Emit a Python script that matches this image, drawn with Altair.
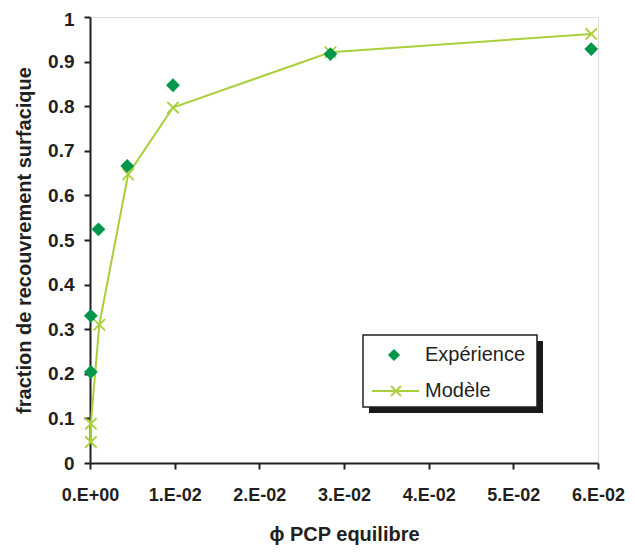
import altair as alt
import pandas as pd

# Data
exp_x = [0.0001, 0.0001, 0.0010, 0.0044, 0.0098, 0.0284, 0.0592]
exp_y = [0.204, 0.330, 0.524, 0.666, 0.847, 0.917, 0.928]
mod_x = [0.0001, 0.0001, 0.0011, 0.0045, 0.0098, 0.0284, 0.0592]
mod_y = [0.047, 0.088, 0.310, 0.647, 0.797, 0.921, 0.962]

x_ticks = [0.0, 0.01, 0.02, 0.03, 0.04, 0.05, 0.06]
x_labels = ["0.E+00", "1.E-02", "2.E-02", "3.E-02", "4.E-02", "5.E-02", "6.E-02"]
y_ticks = [0.0, 0.1, 0.2, 0.3, 0.4, 0.5, 0.6, 0.7, 0.8, 0.9, 1.0]
y_labels = ["0", "0.1", "0.2", "0.3", "0.4", "0.5", "0.6", "0.7", "0.8", "0.9", "1"]
legend_labels = ["Expérience", "Modèle"]

GREEN = "#00964b"
LIME = "#a9cf3a"
INK = "#231f20"
FONT = "Liberation Sans"
XSHAPE = "M-1,-1L1,1M-1,1L1,-1"

exp_df = pd.DataFrame({"x": exp_x, "y": exp_y})
mod_df = pd.DataFrame({"x": mod_x, "y": mod_y, "order": list(range(len(mod_x)))})

x_label_expr = "[" + ",".join("'" + s + "'" for s in x_labels) + "][round(datum.value*100)]"
y_label_expr = "[" + ",".join("'" + s + "'" for s in y_labels) + "][round(datum.value*10)]"

x_enc = alt.X(
    "x:Q",
    scale=alt.Scale(domain=[0, 0.06], nice=False, zero=False),
    axis=alt.Axis(
        values=x_ticks, labelExpr=x_label_expr, title="ϕ PCP equilibre",
        grid=False, labelFont=FONT, labelFontWeight="bold", labelFontSize=18,
        labelColor=INK, titleFont=FONT, titleFontWeight="bold",
        titleFontSize=20, titleColor=INK, titlePadding=20,
        tickSize=6, tickWidth=2, tickColor=INK, domainColor=INK,
        domainWidth=2, labelPadding=17, labelFlush=False, labelOverlap=False,
    ),
)
y_enc = alt.Y(
    "y:Q",
    scale=alt.Scale(domain=[0, 1], nice=False),
    axis=alt.Axis(
        values=y_ticks, labelExpr=y_label_expr,
        title="fraction de recouvrement surfacique",
        grid=False, labelFont=FONT, labelFontWeight="bold", labelFontSize=19,
        labelColor=INK, titleFont=FONT, titleFontWeight="bold",
        titleFontSize=20, titleColor=INK, titlePadding=13,
        tickSize=6, tickWidth=2, tickColor=INK, domainColor=INK,
        domainWidth=2, labelPadding=10, labelFlush=False, labelOverlap=False,
        labelOffset={"condition": {"test": "datum.value >= 0.999", "value": 2}, "value": 0},
    ),
)

line = alt.Chart(mod_df).mark_line(color=LIME, strokeWidth=2).encode(
    x=x_enc, y=y_enc, order="order:O"
)
crosses = alt.Chart(mod_df).mark_point(
    shape=XSHAPE, filled=False, color=LIME, size=130, strokeWidth=1.8, opacity=1
).encode(x="x:Q", y="y:Q")
diamonds = alt.Chart(exp_df).mark_point(
    shape="diamond", filled=True, color=GREEN, size=190, opacity=1
).encode(x="x:Q", y="y:Q")

# Legend box (drawn in pixel space of the plot; plot origin at page (90, 17))
leg_df = pd.DataFrame({"label": legend_labels})
one = leg_df.head(1)
shadow = alt.Chart(one).mark_rect(color="#1a1a1a").encode(
    x=alt.value(279), x2=alt.value(453), y=alt.value(324), y2=alt.value(396)
)
box = alt.Chart(one).mark_rect(fill="white", stroke=INK, strokeWidth=1.5).encode(
    x=alt.value(273), x2=alt.value(447), y=alt.value(318), y2=alt.value(390)
)
leg_diamond = alt.Chart(one).mark_point(
    shape="diamond", filled=True, color=GREEN, size=150, opacity=1
).encode(x=alt.value(304), y=alt.value(338))
leg_line = alt.Chart(one).mark_rule(color=LIME, strokeWidth=2).encode(
    x=alt.value(282), x2=alt.value(329), y=alt.value(374)
)
leg_cross = alt.Chart(one).mark_point(
    shape=XSHAPE, filled=False, color=LIME, size=100, strokeWidth=1.8, opacity=1
).encode(x=alt.value(306), y=alt.value(374))
leg_text1 = alt.Chart(leg_df.iloc[[0]]).mark_text(
    align="left", baseline="middle", font=FONT, fontSize=20, color=INK
).encode(x=alt.value(335), y=alt.value(338), text="label:N")
leg_text2 = alt.Chart(leg_df.iloc[[1]]).mark_text(
    align="left", baseline="middle", font=FONT, fontSize=20, color=INK
).encode(x=alt.value(335), y=alt.value(374), text="label:N")

chart = alt.layer(
    line, crosses, diamonds, shadow, box, leg_diamond, leg_line, leg_cross,
    leg_text1, leg_text2
).properties(
    width=508, height=446,
    autosize=alt.AutoSizeParams(type="none"),
    padding={"left": 82, "top": 9, "right": 29, "bottom": 83},
).configure_view(
    stroke=INK, strokeWidth=1.5
).configure(background="white")

chart.save("out.html", embed_options={"renderer": "svg", "actions": False})
